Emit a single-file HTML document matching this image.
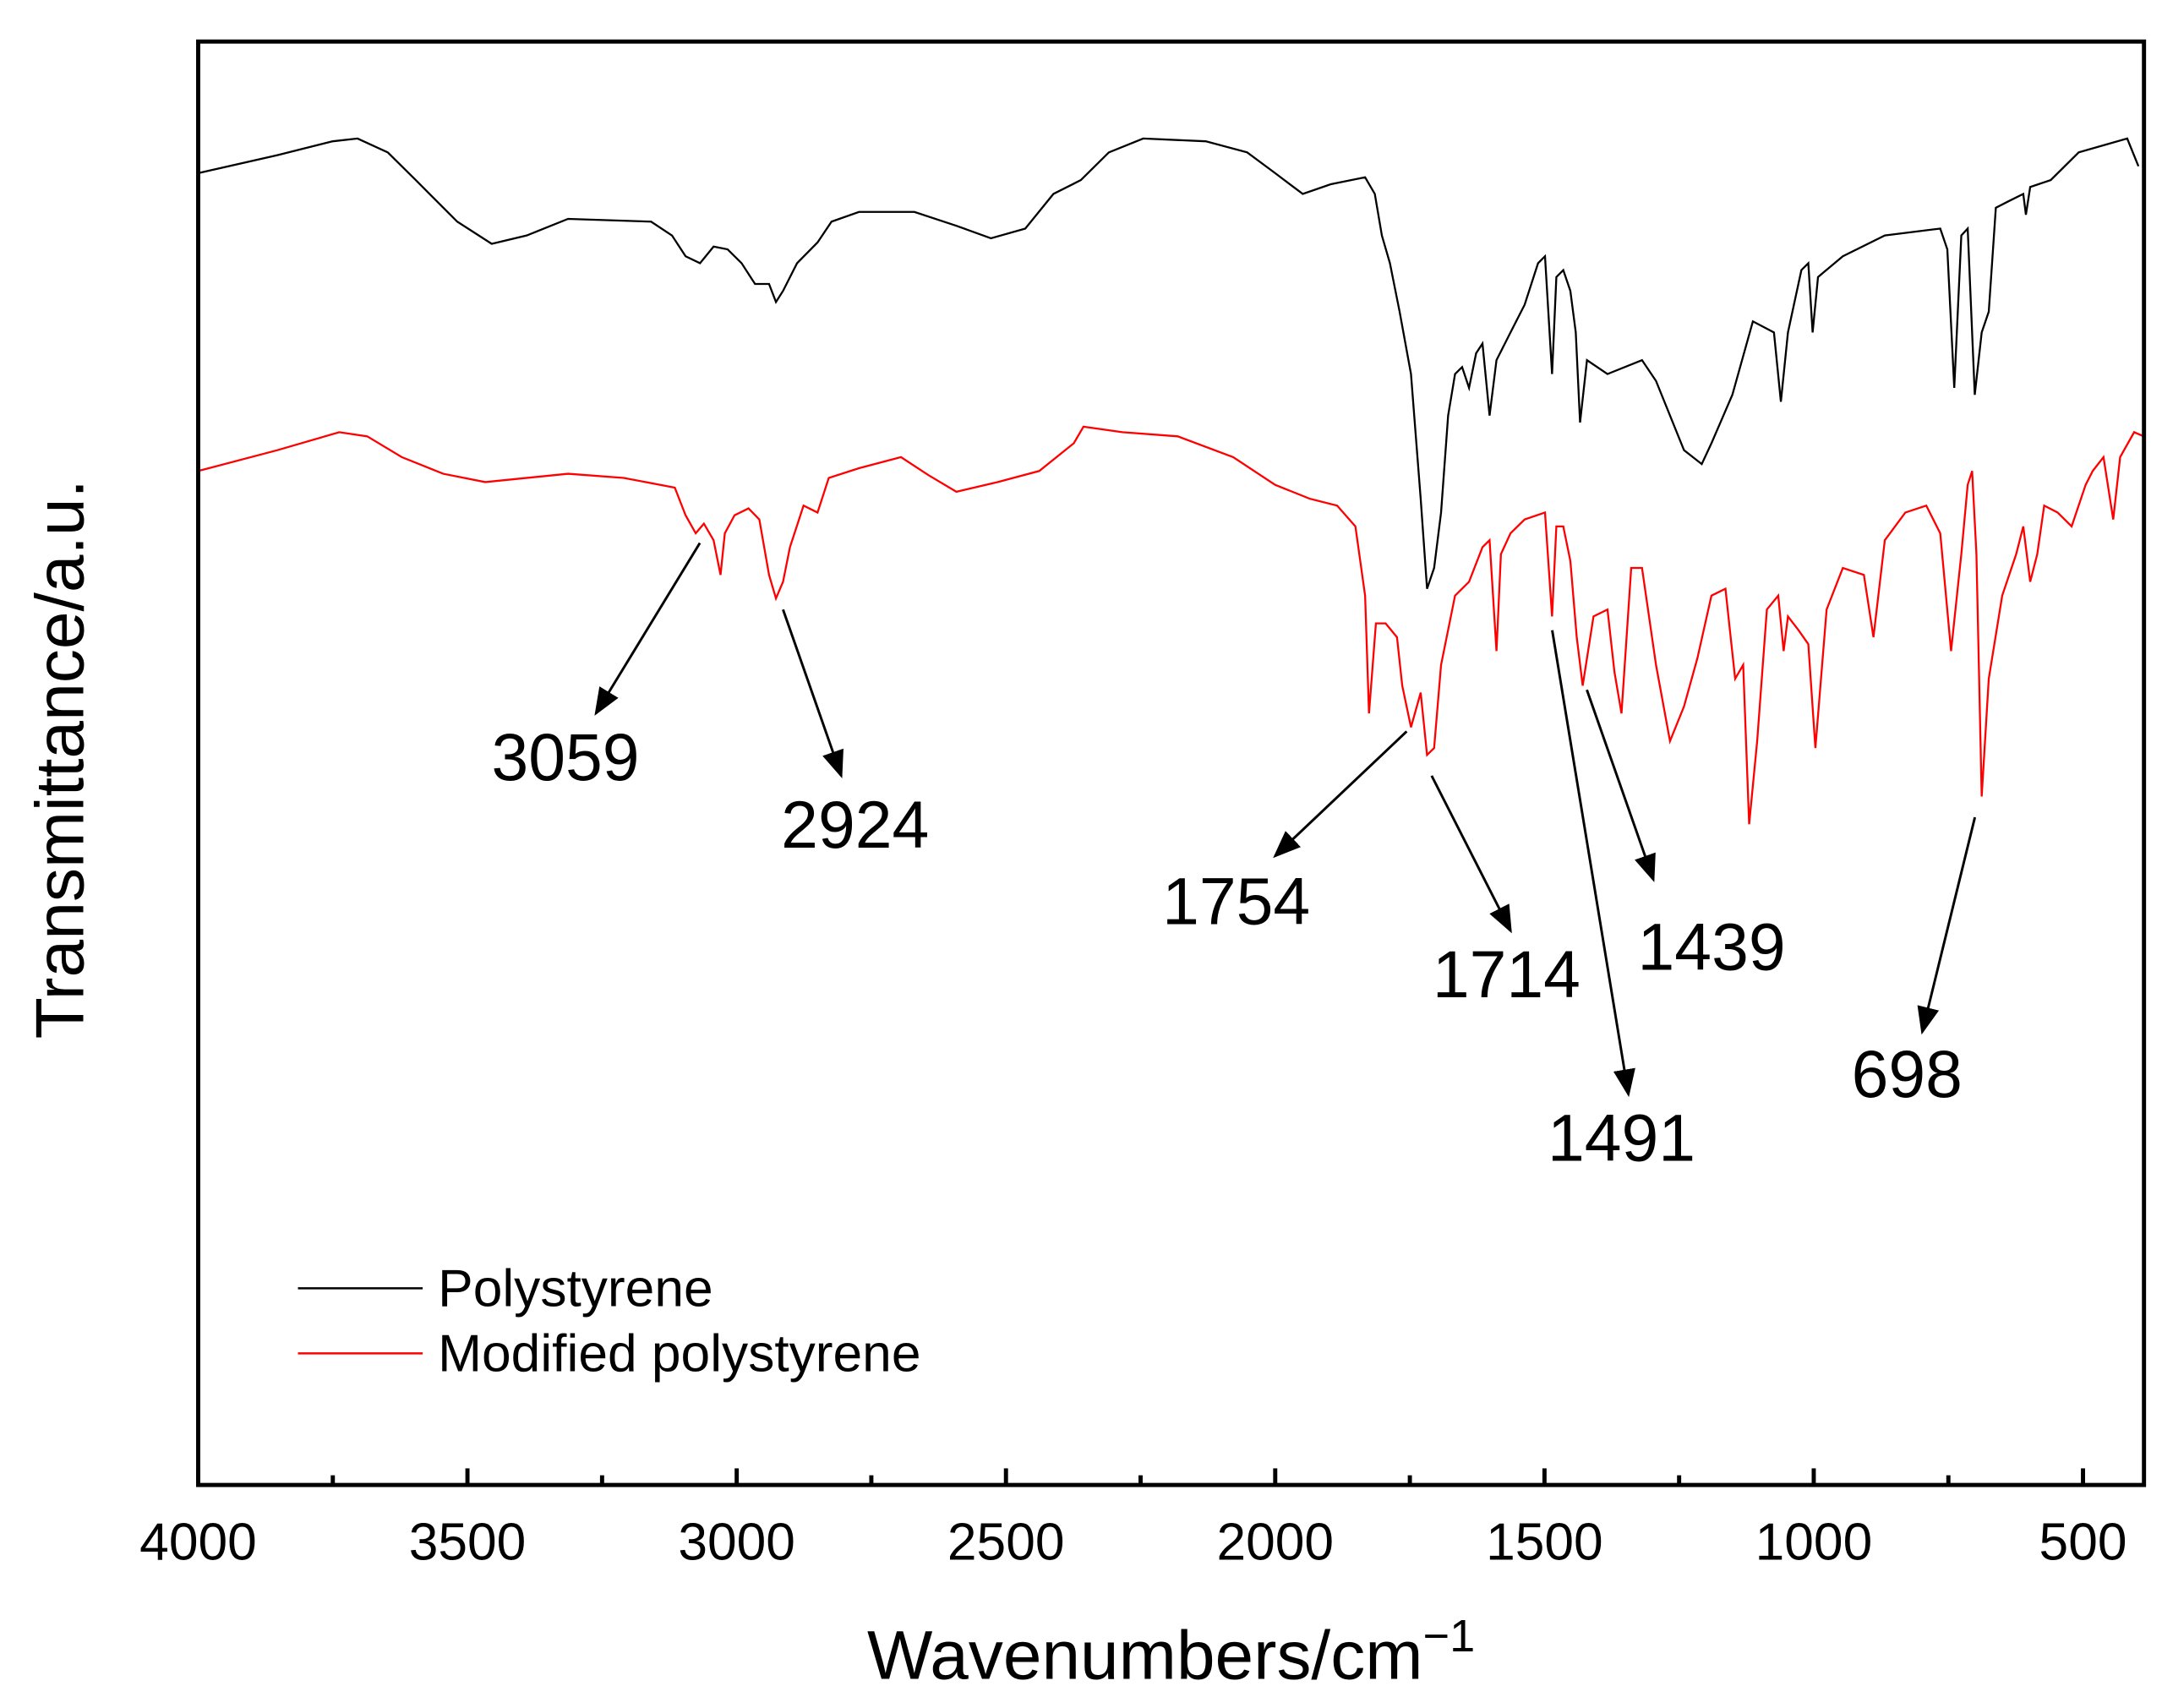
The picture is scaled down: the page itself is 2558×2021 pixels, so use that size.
<!DOCTYPE html>
<html><head><meta charset="utf-8"><style>
html,body{margin:0;padding:0;background:#fff;}
svg{display:block;font-family:"Liberation Sans",Arial,sans-serif;}
</style></head><body>
<svg id="chart" width="2558" height="2021" viewBox="0 0 1560 1233" preserveAspectRatio="none" xmlns="http://www.w3.org/2000/svg">
<rect x="0" y="0" width="1560" height="1233" fill="#fff"/>
<g id="plot"></g>
<g id="ticks"></g>
<rect x="143" y="30" width="1404" height="1042" fill="none" stroke="#000" stroke-width="3"/>
<text x="845" y="1212" font-size="50" text-anchor="middle">Wavenumbers/cm<tspan dy="-20" font-size="33">−1</tspan></text>
<text transform="translate(60,548) rotate(-90)" font-size="49" text-anchor="middle">Transmittance/a.u.</text>
<g>
<line x1="215" y1="930" x2="305" y2="930" stroke="#000" stroke-width="1.5"/>
<text x="316" y="943" font-size="38">Polystyrene</text>
<line x1="215" y1="977" x2="305" y2="977" stroke="#f00" stroke-width="1.5"/>
<text x="316" y="990" font-size="38">Modified polystyrene</text>
</g>
<g id="annot"></g>
</svg>
<script>
const xTicks = [4000, 3500, 3000, 2500, 2000, 1500, 1000, 500];
const xMinorTicks = [3750, 3250, 2750, 2250, 1750, 1250, 750];
const psWave = [4000,3853,3750,3704,3648,3596,3519,3455,3390,3313,3159,3120,3095,3068,3043,3017,2991,2966,2940,2927,2914,2888,2850,2824,2773,2670,2592,2528,2464,2412,2361,2309,2245,2129,2052,2000,1949,1897,1833,1815,1802,1787,1769,1748,1730,1718,1705,1692,1679,1666,1653,1640,1627,1615,1602,1589,1563,1537,1512,1499,1486,1478,1465,1452,1442,1434,1421,1383,1319,1293,1267,1241,1208,1190,1151,1113,1074,1061,1048,1023,1010,1002,992,946,868,765,752,739,726,714,701,688,675,662,637,611,606,598,560,508,418,397];
const psY = [125,112,102,100,110,130,160,176,170,158,160,170,185,190,178,180,190,205,205,218,210,190,175,160,153,153,163,172,165,140,130,110,100,102,110,125,140,133,128,140,170,190,225,270,360,425,410,370,300,270,265,280,255,248,300,260,240,220,190,185,270,200,195,210,240,305,260,270,260,275,300,325,335,320,285,232,240,290,240,195,190,240,200,185,170,165,180,280,170,165,285,240,225,150,145,140,155,135,130,110,100,120];
const modWave = [4000,4000,3853,3738,3686,3622,3545,3467,3313,3210,3115,3095,3076,3061,3043,3030,3022,3004,2978,2958,2940,2927,2914,2901,2876,2850,2829,2773,2695,2644,2592,2515,2438,2374,2356,2284,2181,2078,2000,1936,1885,1851,1833,1826,1813,1795,1774,1764,1748,1730,1718,1705,1692,1666,1640,1615,1602,1589,1581,1563,1537,1499,1486,1478,1465,1452,1440,1429,1409,1383,1370,1357,1339,1319,1293,1267,1241,1216,1190,1164,1146,1131,1120,1105,1087,1066,1056,1048,1028,1010,997,976,946,907,889,868,830,791,765,745,726,714,706,698,688,675,650,624,611,598,585,572,547,521,495,482,462,444,431,405,387];
const modY = [1072,340,325,312,315,330,342,348,342,345,352,372,385,378,390,415,385,372,367,375,415,432,420,395,365,370,345,338,330,343,355,348,340,320,308,312,315,330,350,360,365,380,430,515,450,450,460,495,525,500,545,540,480,430,420,395,390,470,400,385,375,370,445,380,380,405,460,495,445,440,485,515,410,410,480,535,510,475,430,425,490,480,595,535,440,430,470,445,455,465,540,440,410,415,460,390,370,365,385,470,400,350,340,400,575,490,430,400,380,420,400,365,370,380,350,340,330,375,330,312,315];
// values in a.u. (height above axis)
const psValues = psY.map(y => 1072 - y);
const modValues = modY.map(y => 1072 - y);
const peakLabels = ["3059","2924","1754","1714","1491","1439","698"];

const NS = "http://www.w3.org/2000/svg";
const X0 = 143, X1 = 1547, Y0 = 1072, Y1 = 30;
function xs(w){ return X0 + (4000 - w) * (1360/3500); }
function ys(v){ return Y0 - v * ((Y0 - Y1)/1042); }
function mk(tag, attrs, parent){ const e = document.createElementNS(NS, tag); for (const k in attrs) e.setAttribute(k, attrs[k]); parent.appendChild(e); return e; }

const plot = document.getElementById('plot');
function series(w, v, color, name){
  const pts = w.map((d,i)=> xs(d).toFixed(1)+','+ys(v[i]).toFixed(1)).join(' ');
  const p = mk('polyline', {points: pts, fill:'none', stroke: color, 'stroke-width':'1.4', 'stroke-linejoin':'miter'}, plot);
  
  
}
series(psWave, psValues, '#000', 'polystyrene-spectrum');
series(modWave, modValues, '#f00', 'modified-polystyrene-spectrum');

const tk = document.getElementById('ticks');
xTicks.forEach(t => {
  const l = mk('line', {x1: xs(t), x2: xs(t), y1: Y0, y2: Y0 - 12, stroke:'#000', 'stroke-width':'3'}, tk);
  
  
  const tx = mk('text', {x: xs(t), y: 1126, 'font-size':'38', 'text-anchor':'middle'}, tk);
  tx.textContent = t;
  
  
});
xMinorTicks.forEach(t => {
  const l = mk('line', {x1: xs(t), x2: xs(t), y1: Y0, y2: Y0 - 7, stroke:'#000', 'stroke-width':'3'}, tk);
  
  
});

const an = document.getElementById('annot');
const defs = mk('defs', {}, an);
const mrk = mk('marker', {id:'ah', markerWidth:'20', markerHeight:'16', refX:'18', refY:'8', orient:'auto', markerUnits:'userSpaceOnUse'}, defs);
mk('path', {d:'M0,0 L20,8 L0,16 Z', fill:'#000'}, mrk);
const arrows = [
  [505,392,430,515, 408,563],
  [565,440,607,560, 617,612],
  [1015,528,920,618, 892,667],
  [1033,560,1090,672, 1087,720],
  [1120,455,1175,790, 1170,838],
  [1145,498,1193,635, 1235,700],
  [1425,590,1387,745, 1376,792]
];
arrows.forEach((a,i) => {
  const l = mk('line', {x1:a[0], y1:a[1], x2:a[2], y2:a[3], stroke:'#000', 'stroke-width':'1.8', 'marker-end':'url(#ah)'}, an);
  
  
  const t = mk('text', {x:a[4], y:a[5], 'font-size':'48', 'text-anchor':'middle'}, an);
  t.textContent = peakLabels[i];
  
  
});
</script>
</body></html>
